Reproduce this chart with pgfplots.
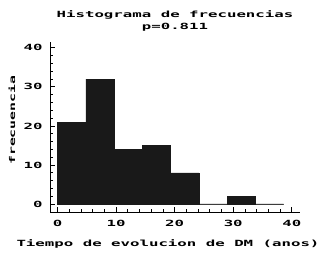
\documentclass[border=0pt]{standalone}
\usepackage{fontspec}
\setmainfont{DejaVu Sans Mono}[FakeStretch=1.85]
\usepackage{pgfplots}
\pgfplotsset{compat=1.18}
\begin{document}
\begin{tikzpicture}
\useasboundingbox (0,0) rectangle (326bp,259bp);
\begin{axis}[
  at={(50bp,47bp)}, anchor=south west,
  scale only axis, width=250bp, height=170bp,
  xmin=-1.28, xmax=41.4, ymin=-2.05, ymax=41.5,
  axis lines=left, axis line style={-, line width=1bp, black},
  xtick={0,10,20,30,40}, ytick={0,10,20,30,40},
  minor x tick num=4, minor y tick num=4,
  tick align=inside, major tick length=5bp, minor tick length=2.5bp,
  tick style={black, line width=0.8bp},
  /pgf/number format/assume math mode=true,
  ticklabel style={font=\fontsize{8.5bp}{10bp}\selectfont\bfseries},
  xticklabel style={anchor=center, yshift=-11bp},
  yticklabel style={anchor=east, xshift=-4bp},
  title={Histograma de frecuencias\\p=0.811},
  title style={at={(axis description cs:0.5,1.09)}, anchor=center, align=center,
    font=\fontsize{8.5bp}{12bp}\selectfont\bfseries},
  xlabel={Tiempo de evolucion de DM (anos)},
  xlabel style={at={(axis description cs:0.472,-0.185)}, anchor=center,
    font=\fontsize{8.5bp}{10bp}\selectfont\bfseries},
  ylabel={frecuencia},
  ylabel style={at={(axis description cs:-0.152,0.54)}, anchor=center,
    font=\fontsize{8bp}{10bp}\selectfont\bfseries},
]
\addplot[gray, line width=0.8bp] coordinates {(0,0) (38.6,0)};
\addplot[ybar interval, fill=black!90, draw=black!90, line width=0.5bp]
  coordinates {(0,21) (4.825,32) (9.65,14) (14.475,15) (19.3,8) (24.125,0) (28.95,2) (33.775,0) (38.6,0)};
\end{axis}
\end{tikzpicture}
\end{document}
